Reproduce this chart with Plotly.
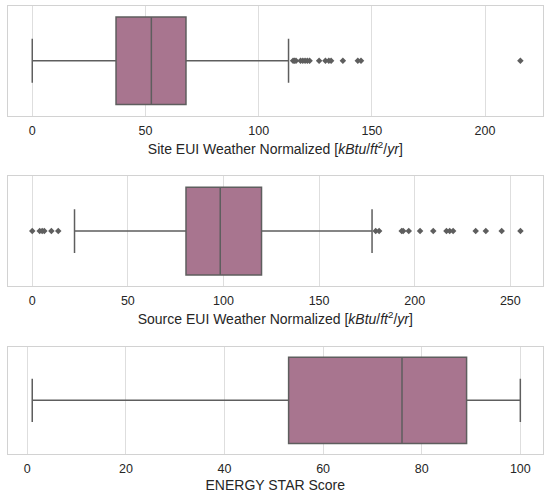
import plotly.graph_objects as go

# ---- data ----
site_stats = dict(lower=0.0, q1=37.0, median=52.6, q3=67.9, upper=113.2)
site_outliers = [115.2, 115.8, 116.5, 118.5, 119.5, 120.5, 121.5, 122.5,
                 126.7, 129.5, 131.0, 132.0, 137.2, 143.8, 145.2, 215.6]

source_stats = dict(lower=22.1, q1=80.4, median=98.3, q3=119.9, upper=177.7)
source_outliers = [0.0, 3.9, 5.2, 6.3, 10.0, 13.6,
                   179.6, 181.4, 193.2, 194.0, 196.9, 202.8, 209.7,
                   216.6, 218.3, 220.1, 231.9, 237.2, 245.5, 255.3]

score_stats = dict(lower=1.0, q1=53.0, median=76.0, q3=89.1, upper=100.0)
score_outliers = []

titles = [
    "Site EUI Weather Normalized [<i>kBtu</i>/<i>ft</i><sup>2</sup>/<i>yr</i>]",
    "Source EUI Weather Normalized [<i>kBtu</i>/<i>ft</i><sup>2</sup>/<i>yr</i>]",
    "ENERGY STAR Score",
]
tick_values = [
    [0, 50, 100, 150, 200],
    [0, 50, 100, 150, 200, 250],
    [0, 20, 40, 60, 80, 100],
]

# ---- style ----
W, H = 544, 493
FILL = "#a8758f"
LINE = "#5e5e5e"
GRID = "#dedede"
FRAME = "#d2d2d2"
FONT = "Liberation Sans, Arial, sans-serif"

x_ranges = [[-10.9, 225.6], [-12.9, 267.1], [-4.0, 104.6]]
y_pix = [(6, 116), (177, 287), (348, 456)]

fig = go.Figure()
panels = [(site_stats, site_outliers), (source_stats, source_outliers),
          (score_stats, score_outliers)]

for i, (st, outl) in enumerate(panels):
    xa = "x" if i == 0 else f"x{i+1}"
    ya = "y" if i == 0 else f"y{i+1}"
    fig.add_trace(go.Box(
        y=[0], q1=[st["q1"]], median=[st["median"]], q3=[st["q3"]],
        lowerfence=[st["lower"]], upperfence=[st["upper"]],
        orientation="h", width=0.8, whiskerwidth=0.5,
        fillcolor=FILL, line=dict(color=LINE, width=1.5),
        boxpoints=False, showlegend=False, hoverinfo="skip",
        xaxis=xa, yaxis=ya,
    ))
    if outl:
        fig.add_trace(go.Scatter(
            x=outl, y=[0] * len(outl), mode="markers",
            marker=dict(symbol="diamond", size=5, color=LINE),
            showlegend=False, hoverinfo="skip", xaxis=xa, yaxis=ya,
        ))

layout = dict(
    width=W, height=H,
    margin=dict(l=0, r=0, t=0, b=0),
    paper_bgcolor="white", plot_bgcolor="white",
    font=dict(family=FONT, size=13, color="#262626"),
)
for i in range(3):
    xk = "xaxis" if i == 0 else f"xaxis{i+1}"
    yk = "yaxis" if i == 0 else f"yaxis{i+1}"
    ya = "y" if i == 0 else f"y{i+1}"
    xa = "x" if i == 0 else f"x{i+1}"
    top, bot = y_pix[i]
    layout[xk] = dict(
        domain=[7.6 / W, 1.0], anchor=ya, range=x_ranges[i],
        tickmode="array", tickvals=tick_values[i],
        showgrid=True, gridcolor=GRID, gridwidth=1, zeroline=False,
        showline=True, linecolor=FRAME, linewidth=1, mirror=True,
        ticks="", ticklabelstandoff=3, tickfont=dict(size=12.5, color="#262626"),
        title=dict(text=titles[i], font=dict(size=14, color="#262626"), standoff=7),
    )
    layout[yk] = dict(
        domain=[1 - bot / H, 1 - top / H], anchor=xa, range=[-0.5, 0.5],
        showticklabels=False, showgrid=False, zeroline=False,
        showline=True, linecolor=FRAME, linewidth=1, mirror=True, ticks="",
    )
fig.update_layout(**layout)
fig.write_html(
    "out.html",
    config={"displayModeBar": False},
    post_script="document.body.style.margin='0';document.body.style.overflow='hidden';",
)
